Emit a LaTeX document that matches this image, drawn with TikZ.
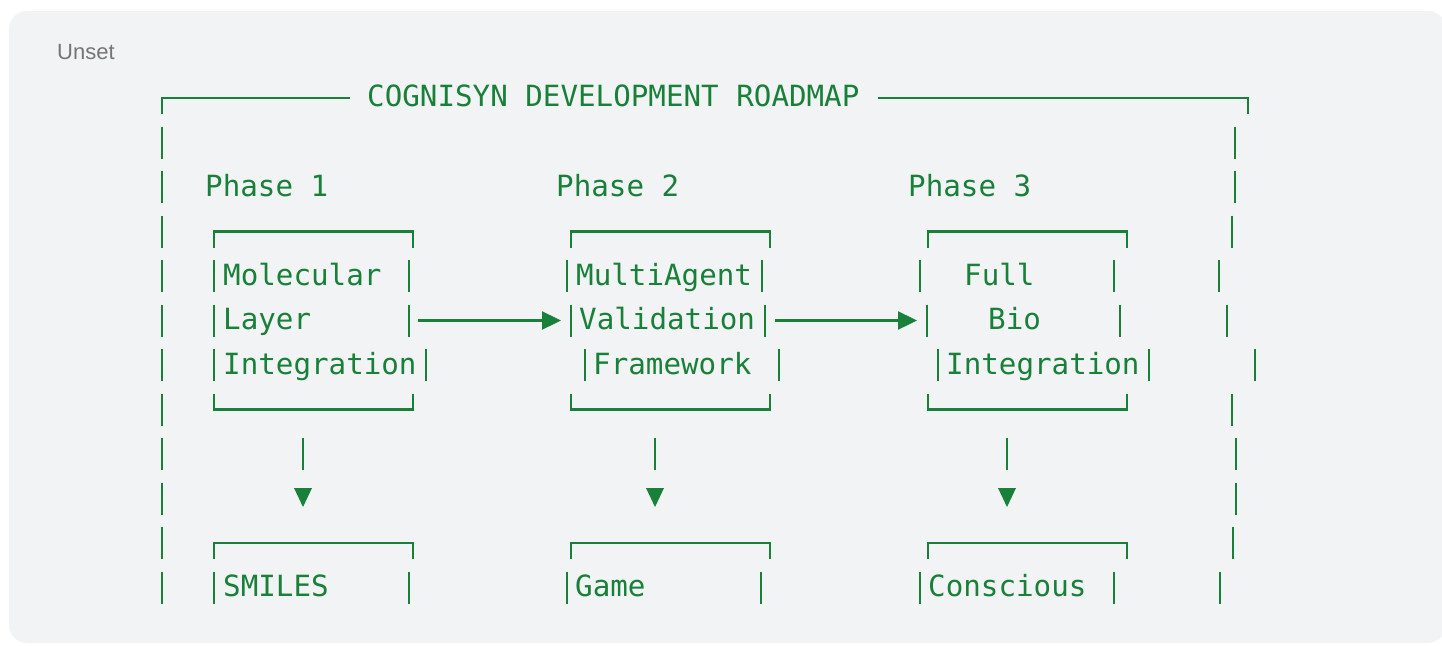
\documentclass[tikz,border=0pt]{standalone}
\usepackage{fontspec}
\newfontfamily\monof{DejaVu Sans Mono}
\newfontfamily\uisans{Liberation Sans}
\usetikzlibrary{arrows.meta}
\definecolor{cg}{HTML}{188038}
\definecolor{cardbg}{HTML}{F1F3F4}
\definecolor{lbl}{HTML}{757575}
\begin{document}
\begin{tikzpicture}[x=1pt,y=-1pt,
  ln/.style={draw=cg,line width=2.3pt},
  txt/.style={font=\monof\fontsize{29.2}{29.2}\selectfont, text=cg, anchor=base west, inner sep=0pt},
  arr/.style={ln,-{Triangle[length=19pt,width=18pt]}},
  tri/.style={fill=cg}]
\useasboundingbox (0,0) rectangle (1442,645);
\fill[white] (0,0) rectangle (1442,645);
\fill[cardbg, rounded corners=18pt] (9,11) rectangle (1446,643);
\node[font=\uisans\fontsize{22}{22}\selectfont, text=lbl, anchor=base west, inner sep=0pt] (unset) at (57,59) {Unset};

% title line
\node[txt] (title) at (367,106.5) {COGNISYN DEVELOPMENT ROADMAP};
\draw[ln] (162,114) -- (162,98) -- (350,98);
\draw[ln] (878,98) -- (1248,98) -- (1248,114);

% outer left bars
\foreach \k in {1,...,11} {
  \draw[ln] (162,{98+44.5*\k-16}) -- (162,{98+44.5*\k+16});
}
% outer right bars
\foreach \k/\x in {1/1235,2/1235,3/1232,4/1219,5/1227,6/1255,7/1232,8/1236,9/1236,10/1233,11/1220} {
  \draw[ln] (\x,{98+44.5*\k-16}) -- (\x,{98+44.5*\k+16});
}

% phase labels
\node[txt] (ph1) at (205,196) {Phase 1};
\node[txt] (ph2) at (556,196) {Phase 2};
\node[txt] (ph3) at (908,196) {Phase 3};

% box tops (line 3 and 10) and bottoms (line 7)
\foreach \xl/\xr in {214/413,571/770,928/1127} {
  \draw[ln] (\xl,247.5) -- (\xl,231.5) -- (\xr,231.5) -- (\xr,247.5);
  \draw[ln] (\xl,393.5) -- (\xl,409.5) -- (\xr,409.5) -- (\xr,393.5);
  \draw[ln] (\xl,559) -- (\xl,543) -- (\xr,543) -- (\xr,559);
}

% inner bars, lines 4,5,6,11
\foreach \x/\y in {214/276,409/276,567/276,762/276,920/276,1114/276,
                   214/320.5,409/320.5,571/320.5,765/320.5,927/320.5,1120/320.5,
                   214/365,426/365,585/365,779/365,938/365,1149/365,
                   214/587.5,409/587.5,567/587.5,761/587.5,920/587.5,1114/587.5} {
  \draw[ln] (\x,\y-16) -- (\x,\y+16);
}

% box texts
\node[txt] (mol) at (223,285) {Molecular};
\node[txt] (lay) at (223,329.5) {Layer};
\node[txt] (int1) at (223,374) {Integration};
\node[txt] (mua) at (576,285) {MultiAgent};
\node[txt] (val) at (579,329.5) {Validation};
\node[txt] (fra) at (593,374) {Framework};
\node[txt] (ful) at (964,285) {Full};
\node[txt] (bio) at (988,329.5) {Bio};
\node[txt] (int3) at (946,374) {Integration};
\node[txt] (smi) at (223,596.5) {SMILES};
\node[txt] (gam) at (575,596.5) {Game};
\node[txt] (con) at (928,596.5) {Conscious};

% horizontal arrows
\coordinate (a1s) at (418,320.5);
\coordinate (a1e) at (561,320.5);
\coordinate (a2s) at (775,320.5);
\coordinate (a2e) at (917,320.5);
\draw[arr] (a1s) -- (a1e);
\draw[arr] (a2s) -- (a2e);

% down arrows
\foreach \x in {303,655,1007} {
  \draw[ln] (\x,438) -- (\x,470);
  \fill[tri] (\x-9,488) -- (\x+9,488) -- (\x,507) -- cycle;
}
\end{tikzpicture}
\end{document}
